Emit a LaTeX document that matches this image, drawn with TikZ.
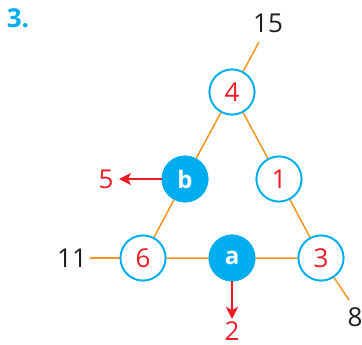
\documentclass[tikz,border=0pt]{standalone}
\usepackage{fontspec}
\setmainfont{Open Sans}
\usetikzlibrary{arrows.meta}
\definecolor{cblue}{HTML}{00AEEF}
\definecolor{corange}{HTML}{F7941D}
\definecolor{cred}{HTML}{ED1C24}
\definecolor{cdark}{HTML}{231F20}
\begin{document}
\begin{tikzpicture}[x=1pt,y=-1pt,
  opennode/.style={circle,draw=cblue,line width=1.8pt,fill=white,minimum size=45pt,inner sep=0pt,text=cred,font=\fontsize{26}{30}\selectfont},
  fullnode/.style={circle,draw=cblue,line width=1.8pt,fill=cblue,minimum size=45pt,inner sep=0pt,text=white,font=\fontsize{24}{28}\selectfont\bfseries},
  edge/.style={corange,line width=1.5pt},
  lab/.style={text=cdark,font=\fontsize{26}{30}\selectfont,inner sep=0pt},
  rlab/.style={text=cred,font=\fontsize{26}{30}\selectfont,inner sep=0pt,text depth=0pt},
  rarrow/.style={cred,line width=1.5pt,-{Stealth[length=12pt,width=12pt,inset=3pt]}}]
\useasboundingbox (0,0) rectangle (362,345);
\node[text=cblue,font=\fontsize{26}{30}\selectfont\bfseries,inner sep=0pt] (title) at (18,18) {3.};
\coordinate (c15) at (259,42);
\coordinate (c11) at (90,258);
\coordinate (c8) at (349,300);
\coordinate (a5) at (119,179);
\coordinate (a2) at (232,319);
\node[opennode] (n4) at (232,92) {};
\node[opennode] (n1) at (279,179) {};
\node[fullnode] (nb) at (185,179) {};
\node[opennode] (n6) at (143,258) {};
\node[fullnode] (na) at (232,258) {};
\node[opennode] (n3) at (321,258) {};
\draw[edge] (n4) -- (nb) -- (n6) -- (na) -- (n3) -- (n1) -- (n4);
\draw[edge] (n4) -- (c15);
\draw[edge] (n6) -- (c11);
\draw[edge] (n3) -- (c8);
\node[opennode] at (n4) {4};
\node[opennode] at (n1) {1};
\node[fullnode] at (nb) {b};
\node[opennode] at (n6) {6};
\node[fullnode] at (na) {a};
\node[opennode] at (n3) {3};
\node[lab] (t15) at (268,23) {15};
\node[lab] (t11) at (72,258) {11};
\node[lab] (t8) at (355,317) {8};
\node[rlab] (t5) at (106,179) {5};
\node[rlab] (t2) at (232,331) {2};
\draw[rarrow] (nb.west) -- (a5);
\draw[rarrow] (na.south) -- (a2);
\end{tikzpicture}
\end{document}
